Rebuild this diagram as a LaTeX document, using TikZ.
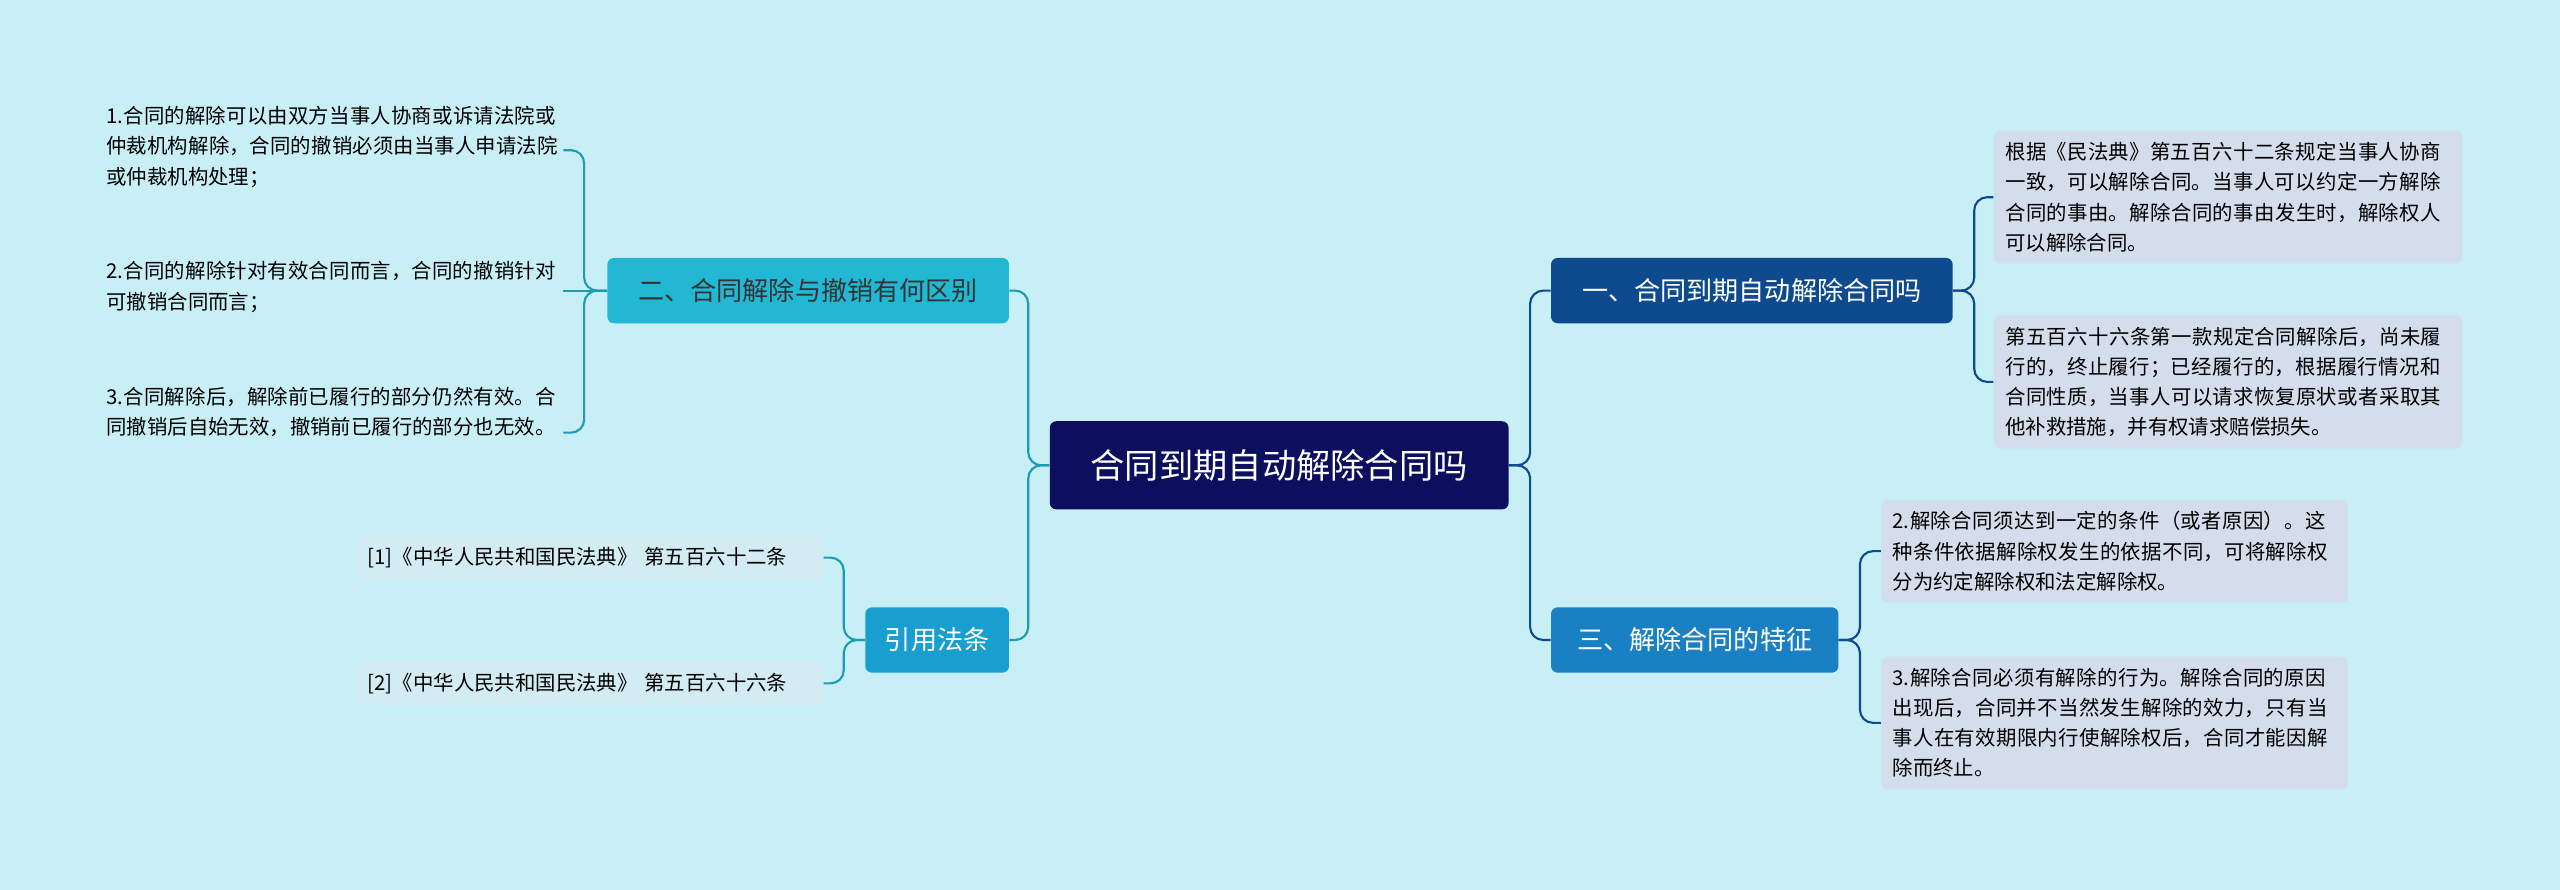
\documentclass[tikz,border=0pt]{standalone}
\usepackage{fontspec}
\newfontfamily\cjk{Noto Sans CJK SC}
\XeTeXlinebreaklocale "zh"
\XeTeXlinebreakskip=0pt plus 1pt
\definecolor{bg}{HTML}{C8EFF6}
\definecolor{navy}{HTML}{0C0E5E}
\definecolor{dblue}{HTML}{0E4A8E}
\definecolor{mblue}{HTML}{1A80C4}
\definecolor{cyan1}{HTML}{22B8D3}
\definecolor{cblue}{HTML}{189FCF}
\definecolor{leafR}{HTML}{D3DDEB}
\definecolor{leafL}{HTML}{D3EBF3}
\begin{document}
\begin{tikzpicture}[x=1pt,y=-1pt,font=\cjk,
 branch/.style={rounded corners=4pt,minimum height=40pt,inner xsep=8pt,font=\cjk\fontsize{16}{18}\selectfont},
 leaf/.style={rounded corners=4pt,fill=leafR,text width=#1,align=left,inner sep=7pt,font=\cjk\fontsize{12.5}{18.5}\selectfont},
 lleaf/.style={text width=278pt,align=left,inner sep=0pt,font=\cjk\fontsize{12.5}{18.5}\selectfont},
 cite/.style={rounded corners=4pt,fill=leafL,text width=272pt,align=left,inner sep=7pt,font=\cjk\fontsize{12.5}{18.5}\selectfont},
 rl/.style={draw=dblue,line width=1.3pt,rounded corners=8pt},
 ll/.style={draw=cyan1!85!black,line width=1.3pt,rounded corners=8pt}]
\fill[bg] (0,0) rectangle (1568,545);
\useasboundingbox (0,0) rectangle (1568,545);
\node[fill=navy,text=white,rounded corners=4pt,minimum width=281pt,minimum height=54pt,font=\cjk\fontsize{21}{24}\selectfont] (c) at (783.5,285) {合同到期自动解除合同吗};
\node[branch,fill=dblue,text=white,minimum width=246pt] (b1) at (1073,178) {一、合同到期自动解除合同吗};
\node[branch,fill=mblue,text=white,minimum width=176pt] (b3) at (1038,392) {三、解除合同的特征};
\node[branch,fill=cyan1,text=black!80,minimum width=246pt] (b2) at (495,178) {二、合同解除与撤销有何区别};
\node[branch,fill=cblue,text=white,minimum width=88pt] (b4) at (574,392) {引用法条};
\node[leaf=273pt,anchor=north west] (r1) at (1221,80) {根据《民法典》第五百六十二条规定当事人协商一致，可以解除合同。当事人可以约定一方解除合同的事由。解除合同的事由发生时，解除权人可以解除合同。};
\node[leaf=273pt,anchor=north west] (r2) at (1221,193) {第五百六十六条第一款规定合同解除后，尚未履行的，终止履行；已经履行的，根据履行情况和合同性质，当事人可以请求恢复原状或者采取其他补救措施，并有权请求赔偿损失。};
\node[leaf=272pt,anchor=north west] (r3) at (1152,306) {2.解除合同须达到一定的条件（或者原因）。这种条件依据解除权发生的依据不同，可将解除权分为约定解除权和法定解除权。};
\node[leaf=272pt,anchor=north west] (r4) at (1152,402) {3.解除合同必须有解除的行为。解除合同的原因出现后，合同并不当然发生解除的效力，只有当事人在有效期限内行使解除权后，合同才能因解除而终止。};
\node[lleaf,anchor=north west] (l1) at (65,65) {1.合同的解除可以由双方当事人协商或诉请法院或仲裁机构解除，合同的撤销必须由当事人申请法院或仲裁机构处理；};
\node[lleaf,anchor=north west] (l2) at (65,160) {2.合同的解除针对有效合同而言，合同的撤销针对可撤销合同而言；};
\node[lleaf,anchor=north west] (l3) at (65,237) {3.合同解除后，解除前已履行的部分仍然有效。合同撤销后自始无效，撤销前已履行的部分也无效。};
\node[cite,anchor=north west] (c1) at (218,328) {[1]《中华人民共和国民法典》 第五百六十二条};
\node[cite,anchor=north west] (c2) at (218,405) {[2]《中华人民共和国民法典》 第五百六十六条};
\draw[rl] (c.east) -- ++(13,0) |- (b1.west);
\draw[rl] (c.east) -- ++(13,0) |- (b3.west);
\draw[rl] (b1.east) -- ++(13,0) |- (r1.west);
\draw[rl] (b1.east) -- ++(13,0) |- (r2.west);
\draw[rl] (b3.east) -- ++(13,0) |- (r3.west);
\draw[rl] (b3.east) -- ++(13,0) |- (r4.west);
\draw[ll] (c.west) -- ++(-13,0) |- (b2.east);
\draw[ll] (c.west) -- ++(-13,0) |- (b4.east);
\draw[ll] (b2.west) -- ++(-14,0) |- (345,92);
\draw[ll] (b2.west) -- ++(-14,0) |- (345,265);
\draw[ll] (b2.west) -- (345,178);
\draw[ll] (b4.west) -- ++(-13,0) |- (c1.east);
\draw[ll] (b4.west) -- ++(-13,0) |- (c2.east);
\end{tikzpicture}
\end{document}
